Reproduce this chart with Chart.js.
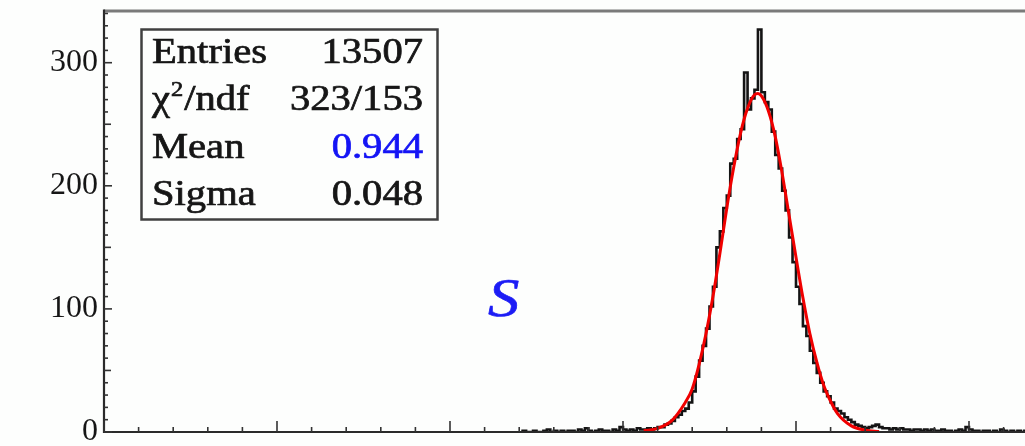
<!DOCTYPE html>
<html>
<head>
<meta charset="utf-8">
<script src="https://cdn.jsdelivr.net/npm/chart.js@4/dist/chart.umd.min.js"></script>
<style>
  html, body { margin: 0; padding: 0; overflow: hidden; background: #fdfefd; }
  #wrap { width: 1160px; height: 446px; }
</style>
</head>
<body>
<div id="wrap"><canvas id="c" width="1160" height="446"></canvas></div>
<script>
// Histogram binning: fixed-width bins starting at histStart
const histStart = 0.600;
const histBinWidth = 0.005;

// Counts per bin (0.600 .. 1.350)
const histCounts = [
  0, 1, 0, 0, 1, 0, 0, 1, 2, 0,
  1, 0, 1, 0, 1, 1, 0, 2, 1, 3,
  1, 0, 1, 2, 1, 1, 0, 2, 1, 4,
  2, 1, 2, 1, 3, 2, 2, 3, 2, 3,
  4, 4, 6, 7, 9, 12, 14, 17, 19, 24,
  33, 45, 58, 70, 84, 102, 118, 150, 163, 182,
  192, 218, 222, 238, 246, 292, 262, 271, 278, 327,
  276, 268, 262, 244, 225, 214, 196, 180, 158, 138,
  118, 104, 86, 78, 66, 56, 48, 40, 33, 29,
  24, 19, 17, 15, 12, 10, 8, 6, 5, 4,
  3, 4, 5, 6, 4, 3, 3, 2, 3, 2,
  3, 2, 2, 1, 2, 2, 1, 2, 1, 2,
  1, 1, 2, 1, 1, 0, 1, 2, 1, 4,
  2, 1, 1, 0, 1, 1, 0, 1, 0, 2,
  1, 0, 1, 0, 1, 0, 1, 0, 1, 0
];

// Gaussian fit curve, sampled
const fitX = [0.78, 0.80, 0.82, 0.84, 0.85, 0.86, 0.87, 0.88, 0.89, 0.90,
              0.91, 0.92, 0.93, 0.94, 0.945, 0.95, 0.96, 0.97, 0.98, 0.99,
              1.00, 1.01, 1.02, 1.03, 1.04, 1.05, 1.06, 1.08, 1.10, 1.12];
const fitY = [1, 3, 9, 24, 35, 55, 80, 110, 145, 182,
              215, 243, 263, 274, 275, 273, 261, 240, 210, 176,
              142, 109, 80, 57, 38, 25, 15, 5, 1.5, 0.4];

// Axis labels
const yTickValues = [0, 100, 200, 300];

// Statistics box content
const statLabels = ['Entries', 'χ2/ndf', 'Mean', 'Sigma'];
const statValues = ['13507', '323/153', '0.944', '0.048'];
const sampleLabel = 'S';

const SERIF = '"Liberation Serif", "DejaVu Serif", serif';
const STRETCH = 1.16;

function stretchedText(ctx, str, x, y, align, font, color) {
  ctx.save();
  ctx.translate(x, y);
  ctx.scale(STRETCH, 1);
  ctx.font = font;
  ctx.textAlign = align;
  ctx.textBaseline = 'alphabetic';
  ctx.fillStyle = color;
  ctx.strokeStyle = color;
  ctx.lineWidth = 0.7;
  ctx.fillText(str, 0, 0);
  ctx.strokeText(str, 0, 0);
  const w = ctx.measureText(str).width * STRETCH;
  ctx.restore();
  return w;
}

function line(ctx, x1, y1, x2, y2) {
  ctx.beginPath();
  ctx.moveTo(x1, y1);
  ctx.lineTo(x2, y2);
  ctx.stroke();
}

const histFrame = {
  id: 'histFrame',
  beforeDraw(chart) {
    const { ctx, width, height } = chart;
    ctx.save();
    ctx.fillStyle = '#fdfefd';
    ctx.fillRect(0, 0, width, height);
    ctx.restore();
  },
  afterDatasetsDraw(chart) {
    const { ctx, chartArea: a } = chart;
    const xs = chart.scales.x, ys = chart.scales.y;
    ctx.save();
    // top frame line
    ctx.strokeStyle = '#7a7a7a';
    ctx.lineWidth = 3;
    line(ctx, a.left, a.top, a.right, a.top);
    // axes
    ctx.strokeStyle = '#2a2a2a';
    ctx.lineWidth = 2.2;
    line(ctx, a.left, a.top - 1.5, a.left, a.bottom + 1);
    line(ctx, a.left - 1, a.bottom, a.right, a.bottom);
    line(ctx, a.right, a.top, a.right, a.bottom);
    // inward ticks, y axis
    ctx.strokeStyle = '#333';
    ctx.lineWidth = 1.6;
    for (let v = 0; v <= 340; v += 10) {
      const y = ys.getPixelForValue(v);
      const len = v % 100 === 0 ? 8 : (v % 50 === 0 ? 7 : 4);
      line(ctx, a.left, y, a.left + len, y);
    }
    // inward ticks, x axis
    for (let k = 0; k <= 30; k++) {
      const x = xs.getPixelForValue(k * 0.05);
      const len = k % 5 === 0 ? 11 : 5;
      line(ctx, x, a.bottom, x, a.bottom - len);
    }
    ctx.restore();
  },
  afterDraw(chart) {
    const { ctx } = chart;
    ctx.save();
    // statistics box
    ctx.fillStyle = '#fdfefd';
    ctx.fillRect(141, 29, 297, 191);
    ctx.strokeStyle = '#404040';
    ctx.lineWidth = 2.5;
    ctx.strokeRect(141.5, 29.5, 296, 190);

    const font = '35px ' + SERIF;
    const baselines = [63, 110, 158, 205];
    const txt = '#161616';
    statLabels.forEach((lab, i) => {
      const y = baselines[i];
      if (lab.startsWith('χ2')) {
        let x = 152;
        x += stretchedText(ctx, 'χ', x, y, 'left', font, txt) + 1;
        x += stretchedText(ctx, '2', x, y - 14, 'left', '21px ' + SERIF, txt) + 1;
        stretchedText(ctx, lab.slice(2), x, y, 'left', font, txt);
      } else {
        stretchedText(ctx, lab, 152, y, 'left', font, txt);
      }
      const col = i === 2 ? '#1414f5' : txt;
      stretchedText(ctx, statValues[i], 423, y, 'right', font, col);
    });

    // sample label
    stretchedText(ctx, sampleLabel, 488, 316, 'left', 'italic 54px ' + SERIF, '#1c1cf5');
    ctx.restore();
  }
};

const histPoints = histCounts.map((n, i) => ({ x: histStart + histBinWidth * (i + 0.5), y: n }));
const fitPoints = fitX.map((x, i) => ({ x, y: fitY[i] }));

new Chart(document.getElementById('c'), {
  type: 'scatter',
  data: {
    datasets: [
      {
        label: 'fit',
        data: fitPoints,
        showLine: true,
        borderColor: '#f00000',
        borderWidth: 3,
        pointRadius: 0,
        cubicInterpolationMode: 'monotone',
        fill: false
      },
      {
        label: 'hist',
        data: histPoints,
        showLine: true,
        stepped: 'middle',
        borderColor: '#141414',
        borderWidth: 2.6,
        pointRadius: 0,
        fill: false
      }
    ]
  },
  options: {
    responsive: false,
    animation: false,
    devicePixelRatio: 1,
    layout: { padding: { left: 0, right: 18, top: 11, bottom: 0 } },
    plugins: { legend: { display: false }, tooltip: { enabled: false } },
    scales: {
      x: {
        type: 'linear', min: 0, max: 1.5,
        grid: { display: false, drawTicks: false },
        border: { display: false },
        ticks: { display: false },
        afterFit(s) { s.height = 14; s.paddingLeft = 0; s.paddingRight = 0; }
      },
      y: {
        type: 'linear', min: 0, max: 342,
        grid: { display: false, drawTicks: false },
        border: { display: false },
        afterBuildTicks(s) { s.ticks = yTickValues.map(v => ({ value: v })); },
        ticks: { font: { family: SERIF, size: 32 }, color: '#161616', padding: 6 },
        afterFit(s) { s.width = 104; s.paddingTop = 0; s.paddingBottom = 0; }
      }
    }
  },
  plugins: [histFrame]
});
</script>
</body>
</html>
